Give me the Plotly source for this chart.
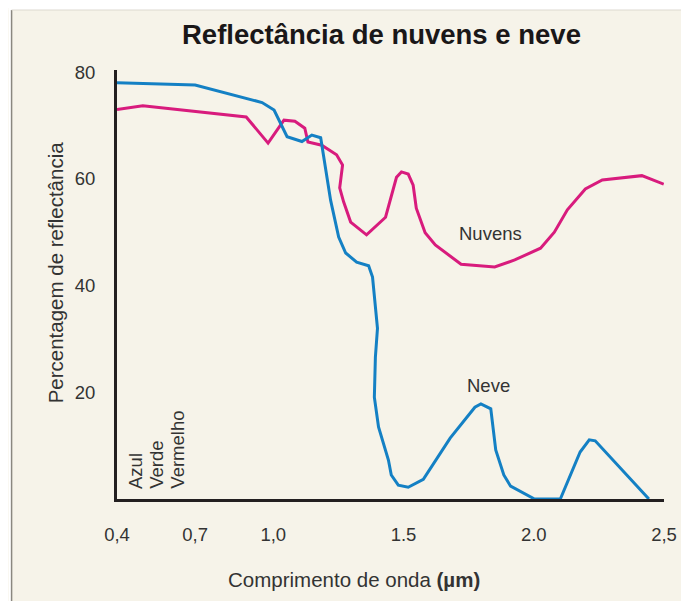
import plotly.graph_objects as go

# Reflectância (%) por comprimento de onda (µm)
neve_x = [0.40, 0.70, 0.957, 1.003, 1.053, 1.11, 1.148, 1.182, 1.22, 1.251, 1.278,
          1.32, 1.366, 1.381, 1.40, 1.392, 1.388, 1.404, 1.442, 1.453, 1.48, 1.518,
          1.576, 1.679, 1.774, 1.797, 1.835, 1.854, 1.885, 1.911, 2.003, 2.102,
          2.178, 2.213, 2.236, 2.442]
neve_y = [78.0, 77.6, 74.3, 72.9, 67.9, 67.0, 68.2, 67.7, 56.0, 49.1, 46.1,
          44.4, 43.7, 41.6, 32.0, 26.6, 19.1, 13.5, 7.3, 4.5, 2.6, 2.2,
          3.7, 11.4, 17.2, 17.8, 16.9, 9.2, 4.5, 2.4, 0.0, 0.0,
          8.8, 11.1, 10.9, 0.0]

nuvens_x = [0.40, 0.499, 0.896, 0.98, 1.041, 1.083, 1.121, 1.133, 1.186, 1.243,
            1.266, 1.255, 1.27, 1.297, 1.358, 1.431, 1.473, 1.492, 1.518, 1.537,
            1.549, 1.583, 1.622, 1.721, 1.85, 1.927, 2.026, 2.079, 2.129, 2.198,
            2.263, 2.415, 2.499]
nuvens_y = [73.0, 73.7, 71.6, 66.7, 71.0, 70.8, 69.5, 66.9, 66.3, 64.5,
            62.6, 58.3, 55.7, 51.9, 49.5, 52.8, 60.3, 61.3, 60.9, 58.8,
            54.5, 49.9, 47.6, 44.0, 43.5, 44.8, 47.0, 50.0, 54.2, 58.1,
            59.8, 60.6, 59.0]

x_ticks = [0.4, 0.7, 1.0, 1.5, 2.0, 2.5]
x_labels = ['0,4', '0,7', '1,0', '1.5', '2.0', '2,5']
y_ticks = [20, 40, 60, 80]
bandas = ['Azul', 'Verde', 'Vermelho']
bandas_x = [0.469, 0.549, 0.629]

bg = '#f6f3e9'
txt = '#231f20'
font = 'Liberation Sans, Arial, sans-serif'

# a página tem margem de 8px no body, desconta-se isso
OFF = 8
W, H = 689 - OFF, 601 - OFF
ml, mr, mt, mb = 117 - OFF, 22, 70 - OFF, 102
pw, ph = W - ml - mr, H - mb - mt


def px(x):
  # px da página -> paper
  return (x - OFF - ml) / pw


def py(y):
  return (H - mb - (y - OFF)) / ph


fig = go.Figure()
fig.add_trace(go.Scatter(x=nuvens_x, y=nuvens_y, mode='lines', showlegend=False,
                         line=dict(color='#d81b7d', width=3)))
fig.add_trace(go.Scatter(x=neve_x, y=neve_y, mode='lines', showlegend=False,
                         line=dict(color='#1480c4', width=3)))

fig.update_layout(
  width=W, height=H,
  margin=dict(l=ml, r=mr, t=mt, b=mb),
  paper_bgcolor=bg, plot_bgcolor=bg,
  font=dict(family=font, color=txt, size=18),
  xaxis=dict(range=[0.4, 2.5], tickvals=x_ticks, ticktext=x_labels,
             showgrid=False, zeroline=False, showline=True,
             linecolor=txt, linewidth=3, ticks='', ticklabelstandoff=17,
             tickfont=dict(size=18.5, color='#333')),
  yaxis=dict(range=[0, 80.4], tickvals=y_ticks,
             showgrid=False, zeroline=False, showline=True,
             linecolor=txt, linewidth=3, ticks='', ticklabelstandoff=15,
             tickfont=dict(size=18.5, color='#333')),
  shapes=[
    dict(type='rect', xref='paper', yref='paper', x0=px(OFF), x1=px(11),
         y0=py(601), y1=py(OFF), fillcolor='white', line_width=0, layer='below'),
    dict(type='rect', xref='paper', yref='paper', x0=px(OFF), x1=px(689),
         y0=py(10), y1=py(OFF), fillcolor='white', line_width=0, layer='below'),
    dict(type='line', xref='paper', yref='paper', x0=px(11), x1=px(11),
         y0=py(601), y1=py(10), line=dict(color='#8a8780', width=1.5)),
    dict(type='line', xref='paper', yref='paper', x0=px(11), x1=px(689),
         y0=py(10), y1=py(10), line=dict(color='#dcd9d0', width=1)),
  ],
)

anns = [
  dict(text='<b>Reflectância de nuvens e neve</b>', x=px(383), y=py(35),
       font=dict(size=27.5, color='#1a1718')),
  dict(text='Comprimento de onda <b>(µm)</b>', x=px(355), y=py(579),
       font=dict(size=20.5, color='#333')),
  dict(text='Percentagem de reflectância', x=px(55), y=py(272), textangle=-90,
       font=dict(size=20.5, color='#333')),
  dict(text='Nuvens', x=px(493), y=py(233), font=dict(size=18.5, color='#333')),
  dict(text='Neve', x=px(491), y=py(386), font=dict(size=18.5, color='#333')),
]
for a in anns:
  fig.add_annotation(xref='paper', yref='paper', showarrow=False,
                     xanchor='center', yanchor='middle', **a)

for nome, bx in zip(bandas, bandas_x):
  fig.add_annotation(text=nome, x=bx, y=1.5, xref='x', yref='y', textangle=-90,
                     showarrow=False, xanchor='center', yanchor='bottom',
                     font=dict(size=18.5, color='#333'))

fig.write_html('out.html')
